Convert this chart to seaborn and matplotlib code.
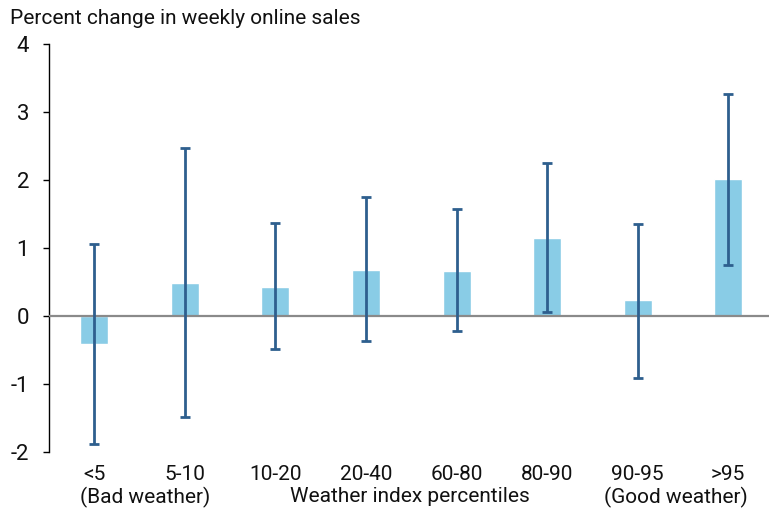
import matplotlib
matplotlib.use("Agg")
import matplotlib.pyplot as plt
import seaborn as sns
import pandas as pd
import numpy as np

# Weather index percentile bins and estimated effect on weekly online sales
categories = ["<5", "5-10", "10-20", "20-40", "60-80", "80-90", "90-95", ">95"]
effect = [-0.41, 0.48, 0.43, 0.68, 0.66, 1.15, 0.23, 2.01]
ci_low = [-1.88, -1.49, -0.49, -0.37, -0.22, 0.06, -0.91, 0.75]
ci_high = [1.06, 2.47, 1.37, 1.75, 1.57, 2.25, 1.35, 3.26]
yticks = [-2, -1, 0, 1, 2, 3, 4]

sns.set_theme(style="white")
plt.rcParams["font.family"] = ["Roboto", "DejaVu Sans"]

df = pd.DataFrame({"bin": categories, "effect": effect,
                   "lo": ci_low, "hi": ci_high})

W, H = 769, 512
fig = plt.figure(figsize=(W / 100, H / 100), dpi=100)
ax = fig.add_axes([49 / W, 1 - 452 / H, 1 - 49 / W, (452 - 44) / H])

bar_color = "#89cce6"
err_color = "#2e5f8e"
text_color = "#111111"

sns.barplot(data=df, x="bin", y="effect", color=bar_color, width=0.31,
            saturation=1, errorbar=None, ax=ax, zorder=2)

x = np.arange(len(categories))
eff = df["effect"].to_numpy()
yerr = np.vstack([eff - df["lo"].to_numpy(), df["hi"].to_numpy() - eff])
ax.errorbar(x, eff, yerr=yerr, fmt="none", ecolor=err_color,
            elinewidth=2, capsize=3.4, capthick=2, zorder=4)

ax.axhline(0, color="#8a8a8a", lw=1.6, zorder=3)

ax.set_xlim(-0.5, 7.45)
ax.set_ylim(-2, 4)
ax.set_yticks(yticks)
ax.set_yticklabels([str(t) for t in yticks])
ax.set_xlabel("")
ax.set_ylabel("")

for side in ["top", "right", "bottom"]:
    ax.spines[side].set_visible(False)
ax.spines["left"].set_color("black")
ax.spines["left"].set_linewidth(1.0)

ax.tick_params(axis="y", direction="out", length=4.3, width=1,
               color="black", pad=10, labelsize=16, labelcolor=text_color,
               left=True)
ax.tick_params(axis="x", length=0, pad=9, labelsize=15,
               labelcolor=text_color)

fig.text(10 / W, 1 - 18 / H, "Percent change in weekly online sales",
         fontsize=15, color=text_color, ha="left", va="center")

row2 = 1 - 497 / H
fig.text(80 / W, row2, "(Bad weather)", fontsize=15, color=text_color,
         ha="left", va="center")
fig.text(410 / W, row2, "Weather index percentiles", fontsize=15,
         color=text_color, ha="center", va="center")
fig.text(748 / W, row2, "(Good weather)", fontsize=15, color=text_color,
         ha="right", va="center")

fig.savefig("out.png", dpi=100)
